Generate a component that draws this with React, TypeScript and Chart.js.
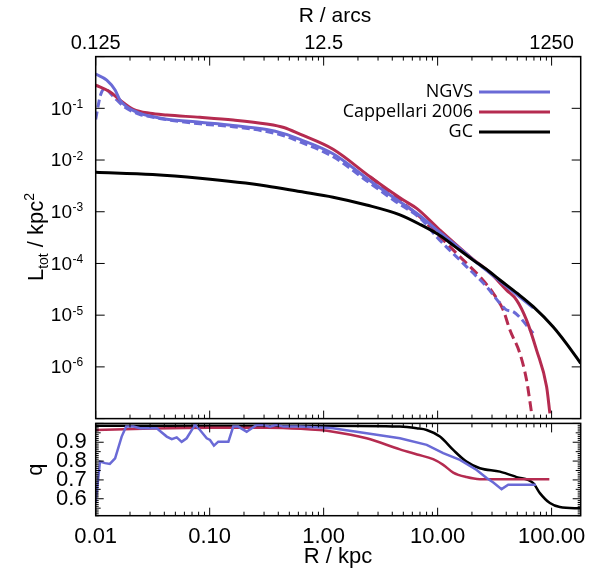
import React, { useEffect, useRef } from "react";
import { Chart, registerables } from "chart.js";

Chart.register(...registerables);

// ---------- data (R in kpc) ----------
const kpcTicks = [0.01, 0.1, 1, 10, 100];
const arcTicks = [0.125, 12.5, 1250];
const lumTickExponents = [-1, -2, -3, -4, -5, -6];
const qTicks = [0.6, 0.7, 0.8, 0.9];
const legendLabels = ["NGVS", "Cappellari 2006", "GC"];

const ngvsR = [0.01, 0.0125, 0.0148, 0.0163, 0.0187, 0.0245, 0.0299, 0.042, 0.0822, 0.16, 0.316, 0.447, 0.619, 1.21, 2.55, 4.08, 6.55, 10.47, 15.8, 20.5, 28.2, 35.2, 50.1, 69.0];
const ngvsL = [0.46, 0.352, 0.226, 0.145, 0.107, 0.08, 0.0708, 0.0617, 0.0537, 0.0468, 0.0389, 0.0324, 0.0251, 0.0132, 0.00398, 0.00191, 0.000933, 0.000398, 0.000191, 0.000117, 0.0000676, 0.0000457, 0.0000245, 0.0000138];

const ngvsDashR = [0.01, 0.011, 0.012, 0.0141, 0.0178, 0.0245, 0.0299, 0.042, 0.0822, 0.16, 0.316, 0.447, 0.619, 1.21, 2.38, 4.27, 7.41, 9.79, 17.9, 26.9, 35.2, 40.3, 46.0, 69.0];
const ngvsDashL = [0.0612, 0.178, 0.24, 0.174, 0.107, 0.0759, 0.0692, 0.0603, 0.0501, 0.0441, 0.0355, 0.0295, 0.0224, 0.0116, 0.00398, 0.00158, 0.000676, 0.000328, 0.0000871, 0.0000355, 0.000017, 0.0000126, 0.0000117, 0.00000447];

const capR = [0.01, 0.0133, 0.0163, 0.0214, 0.0299, 0.042, 0.0822, 0.161, 0.316, 0.447, 0.619, 1.21, 2.55, 4.08, 5.0, 6.55, 10.47, 20.5, 28.2, 40.3, 49.3, 60.3, 73.8, 90.4, 96.6];
const capL = [0.282, 0.209, 0.145, 0.0957, 0.08, 0.0741, 0.067, 0.0594, 0.0497, 0.0425, 0.0316, 0.0161, 0.00475, 0.00227, 0.00168, 0.00116, 0.000443, 0.00012, 0.0000692, 0.0000305, 0.0000196, 0.00000804, 0.00000211, 0.000000412, 0.000000126];

const capDashR = [2.55, 3.98, 7.48, 11.19, 16.8, 23.5, 30.8, 37.6, 43.1, 52.7, 60.3, 66.8];
const capDashL = [0.00475, 0.00219, 0.000692, 0.000284, 0.000116, 0.0000553, 0.0000264, 0.0000126, 0.00000515, 0.00000182, 0.000000556, 0.000000126];

const gcR = [0.01, 0.0316, 0.0822, 0.316, 0.619, 1.21, 2.38, 4.67, 7.08, 10.47, 14.1, 20.5, 28.2, 35.2, 50.1, 69.0, 103, 135, 180];
const gcL = [0.00578, 0.00525, 0.00443, 0.00316, 0.00246, 0.00191, 0.00135, 0.000871, 0.000562, 0.000347, 0.000214, 0.000116, 0.0000708, 0.0000479, 0.0000263, 0.0000146, 0.00000597, 0.00000282, 0.00000117];

const qNgvsR = [0.01, 0.0109, 0.0121, 0.0133, 0.0148, 0.0169, 0.0185, 0.0214, 0.0245, 0.0343, 0.042, 0.0465, 0.0514, 0.0568, 0.0628, 0.0743, 0.0822, 0.0942, 0.1007, 0.109, 0.119, 0.146, 0.161, 0.178, 0.211, 0.258, 0.295, 0.338, 0.387, 0.443, 0.619, 1.21, 2.38, 4.67, 8.02, 11.19, 15.7, 22.0, 26.9, 30.8, 36.4, 41.6, 72.8];
const qNgvs = [0.577, 0.797, 0.789, 0.785, 0.815, 0.93, 0.983, 0.983, 0.974, 0.974, 0.93, 0.916, 0.926, 0.902, 0.921, 0.992, 0.965, 0.921, 0.912, 0.882, 0.903, 0.903, 0.983, 0.983, 0.956, 0.992, 0.992, 0.983, 0.992, 0.983, 0.983, 0.974, 0.948, 0.921, 0.886, 0.842, 0.806, 0.753, 0.71, 0.686, 0.651, 0.674, 0.674];

const qCapR = [0.01, 0.0316, 0.1, 0.316, 0.631, 1.21, 2.38, 4.67, 6.61, 9.12, 11.2, 13.7, 17.9, 23.5, 95.5];
const qCap = [0.965, 0.973, 0.977, 0.977, 0.971, 0.956, 0.921, 0.862, 0.835, 0.81, 0.78, 0.739, 0.715, 0.704, 0.703];

const qGcR = [0.01, 0.1, 1.0, 4.67, 6.55, 8.02, 10.47, 13.7, 17.9, 23.5, 35.2, 49.3, 69.0, 78.9, 96.6, 118, 180];
const qGc = [0.988, 0.988, 0.988, 0.983, 0.974, 0.965, 0.93, 0.859, 0.797, 0.762, 0.744, 0.715, 0.683, 0.63, 0.577, 0.556, 0.549];

// ---------- ranges & styles ----------
const R_MIN = 0.01;
const R_MAX = 180;
const ARCS_PER_KPC = 12.5;
const L_MIN = 1e-7;
const L_MAX = 1;
const Q_MIN = 0.51;
const Q_MAX = 1.0;

const BLUE = "#6a6ad6";
const RED = "#b52b50";
const BLACK = "#000000";
const FONT = "'Liberation Sans', Arial, Helvetica, sans-serif";
const LEGEND_FONT = "'Open Sans', 'DejaVu Sans', sans-serif";
const legendColors = [BLUE, RED, BLACK];

const W = 600;
const TOP_H = 421;
const BOT_H = 151;
const AXIS_LEFT = 95.7;
const PAD_RIGHT = 19.3;
const BOT_PAD_TOP = 2.4;
const BOT_AREA_H = 92.3;

const pts = (xs: number[], ys: number[]) => xs.map((x, i) => ({ x, y: ys[i] }));

function seg(ctx: any, x1: number, y1: number, x2: number, y2: number) {
  ctx.beginPath();
  ctx.moveTo(x1, y1);
  ctx.lineTo(x2, y2);
  ctx.stroke();
}

function zeroPad(s: any) {
  s.paddingTop = 0;
  s.paddingBottom = 0;
  s.paddingLeft = 0;
  s.paddingRight = 0;
}

function drawKpcTicks(ctx: any, xs: any, a: any) {
  for (const d of kpcTicks) {
    for (let m = 1; m <= 9; m++) {
      const v = m * d;
      if (v > R_MAX) continue;
      const px = xs.getPixelForValue(v);
      const major = m === 1;
      seg(ctx, px, a.top, px, a.top + (major ? 9 : 4));
      seg(ctx, px, a.bottom, px, a.bottom - (major ? 8 : 4));
    }
  }
}

const topDecor = {
  id: "topDecor",
  afterDraw(chart: any) {
    const { ctx, chartArea: a, scales } = chart;
    const xs = scales.x;
    const ys = scales.y;
    ctx.save();
    ctx.strokeStyle = "#000";
    ctx.lineWidth = 1;
    drawKpcTicks(ctx, xs, a);
    for (let e = -7; e <= 0; e++) {
      const py = ys.getPixelForValue(Math.pow(10, e));
      seg(ctx, a.left, py, a.left + 9, py);
      seg(ctx, a.right, py, a.right - 9, py);
    }
    ctx.lineWidth = 1.5;
    ctx.strokeRect(a.left, a.top, a.right - a.left, a.bottom - a.top);

    // y tick labels 10^e
    ctx.fillStyle = "#000";
    for (const e of lumTickExponents) {
      const py = ys.getPixelForValue(Math.pow(10, e));
      ctx.font = `19px ${FONT}`;
      ctx.textAlign = "right";
      ctx.textBaseline = "middle";
      ctx.fillText("10", 72, py + 1);
      ctx.font = `12px ${FONT}`;
      ctx.textAlign = "left";
      ctx.textBaseline = "alphabetic";
      ctx.fillText(String(e), 72.5, py - 0.5);
    }

    // y title: L_tot / kpc^2
    ctx.save();
    ctx.translate(35, 237);
    ctx.rotate(-Math.PI / 2);
    const parts = [
      { t: "L", f: 22, dy: 0 },
      { t: "tot", f: 14, dy: 5 },
      { t: " / kpc", f: 22, dy: 0 },
      { t: "2", f: 14, dy: -9 },
    ];
    let total = 0;
    for (const p of parts) {
      ctx.font = `${p.f}px ${FONT}`;
      total += ctx.measureText(p.t).width;
    }
    let cx = -total / 2;
    ctx.textAlign = "left";
    ctx.textBaseline = "alphabetic";
    for (const p of parts) {
      ctx.font = `${p.f}px ${FONT}`;
      ctx.fillText(p.t, cx, 8 + p.dy);
      cx += ctx.measureText(p.t).width;
    }
    ctx.restore();

    // top title
    ctx.font = `21px ${FONT}`;
    ctx.textAlign = "center";
    ctx.textBaseline = "middle";
    ctx.fillText("R / arcs", 335, 16);

    // legend
    legendLabels.forEach((t, i) => {
      const y = 92 + i * 20;
      ctx.font = `18px ${LEGEND_FONT}`;
      ctx.textAlign = "right";
      ctx.textBaseline = "middle";
      ctx.fillStyle = "#000";
      ctx.fillText(t, 473, y);
      ctx.strokeStyle = legendColors[i];
      ctx.lineWidth = 3;
      seg(ctx, 479, y, 550, y);
    });
    ctx.restore();
  },
};

const botDecor = {
  id: "botDecor",
  afterDraw(chart: any) {
    const { ctx, chartArea: a, scales } = chart;
    const xs = scales.x;
    const ys = scales.y;
    ctx.save();
    ctx.strokeStyle = "#000";
    ctx.lineWidth = 1;
    drawKpcTicks(ctx, xs, a);
    for (let i = 51; i <= 100; i++) {
      const v = i / 100;
      const py = ys.getPixelForValue(v);
      const len = i % 10 === 0 ? 8 : i % 5 === 0 ? 5 : 3;
      seg(ctx, a.left, py, a.left + len, py);
      seg(ctx, a.right, py, a.right - len, py);
    }
    ctx.lineWidth = 1.5;
    ctx.strokeRect(a.left, a.top, a.right - a.left, a.bottom - a.top);

    ctx.fillStyle = "#000";
    ctx.font = `22px ${FONT}`;
    ctx.textAlign = "center";
    ctx.textBaseline = "middle";
    ctx.fillText("R / kpc", 338, 136);

    ctx.save();
    ctx.translate(36, (a.top + a.bottom) / 2);
    ctx.rotate(-Math.PI / 2);
    ctx.fillText("q", 0, 0);
    ctx.restore();
    ctx.restore();
  },
};

function lineDs(label: string, data: any[], color: string, width: number, extra: any = {}) {
  return {
    label,
    data,
    borderColor: color,
    backgroundColor: color,
    borderWidth: width,
    pointRadius: 0,
    fill: false,
    ...extra,
  };
}

export default function App() {
  const topRef = useRef<HTMLCanvasElement>(null);
  const botRef = useRef<HTMLCanvasElement>(null);

  useEffect(() => {
    const smooth = { cubicInterpolationMode: "monotone" };
    const top = new Chart(topRef.current as any, {
      type: "line",
      data: {
        datasets: [
          lineDs("GC", pts(gcR, gcL), BLACK, 3, smooth),
          lineDs("NGVS", pts(ngvsR, ngvsL), BLUE, 3, smooth),
          lineDs("Cappellari 2006", pts(capR, capL), RED, 3, smooth),
          lineDs("NGVS (dashed)", pts(ngvsDashR, ngvsDashL), BLUE, 3, { ...smooth, borderDash: [8, 4] }),
          lineDs("Cappellari 2006 (dashed)", pts(capDashR, capDashL), RED, 3, { ...smooth, borderDash: [10, 5] }),
        ],
      } as any,
      options: {
        responsive: false,
        animation: false,
        devicePixelRatio: 1,
        layout: { padding: { left: 0, right: PAD_RIGHT, top: 0, bottom: TOP_H - 418.6 } },
        plugins: { legend: { display: false }, tooltip: { enabled: false } },
        scales: {
          x: { type: "logarithmic", min: R_MIN, max: R_MAX, display: false },
          xTop: {
            type: "logarithmic",
            position: "top",
            min: R_MIN * ARCS_PER_KPC,
            max: R_MAX * ARCS_PER_KPC,
            grid: { display: false, drawTicks: false },
            border: { display: false },
            afterBuildTicks: (s: any) => {
              s.ticks = arcTicks.map((v) => ({ value: v }));
            },
            afterFit: (s: any) => {
              s.height = 56.6;
              zeroPad(s);
            },
            ticks: {
              autoSkip: false,
              maxRotation: 0,
              padding: 1,
              color: "#000",
              font: { family: FONT, size: 20 },
              callback: (v: any) => String(v),
            },
          },
          y: {
            type: "logarithmic",
            position: "left",
            min: L_MIN,
            max: L_MAX,
            grid: { display: false, drawTicks: false },
            border: { display: false },
            ticks: { display: false },
            afterFit: (s: any) => {
              s.width = AXIS_LEFT;
              zeroPad(s);
            },
          },
        },
      } as any,
      plugins: [topDecor],
    });

    const bot = new Chart(botRef.current as any, {
      type: "line",
      data: {
        datasets: [
          lineDs("NGVS", pts(qNgvsR, qNgvs), BLUE, 2.5),
          lineDs("Cappellari 2006", pts(qCapR, qCap), RED, 2.5, smooth),
          lineDs("GC", pts(qGcR, qGc), BLACK, 2.5, smooth),
        ],
      } as any,
      options: {
        responsive: false,
        animation: false,
        devicePixelRatio: 1,
        layout: { padding: { left: 0, right: PAD_RIGHT, top: BOT_PAD_TOP, bottom: 0 } },
        plugins: { legend: { display: false }, tooltip: { enabled: false } },
        scales: {
          x: {
            type: "logarithmic",
            position: "bottom",
            min: R_MIN,
            max: R_MAX,
            grid: { display: false, drawTicks: false },
            border: { display: false },
            afterBuildTicks: (s: any) => {
              s.ticks = kpcTicks.map((v) => ({ value: v }));
            },
            afterFit: (s: any) => {
              s.height = BOT_H - BOT_PAD_TOP - BOT_AREA_H;
              zeroPad(s);
            },
            ticks: {
              autoSkip: false,
              maxRotation: 0,
              padding: 8,
              color: "#000",
              font: { family: FONT, size: 22 },
              callback: (v: any) => Number(v).toFixed(2),
            },
          },
          y: {
            type: "linear",
            position: "left",
            min: Q_MIN,
            max: Q_MAX,
            grid: { display: false, drawTicks: false },
            border: { display: false },
            afterBuildTicks: (s: any) => {
              s.ticks = qTicks.map((v) => ({ value: v }));
            },
            afterFit: (s: any) => {
              s.width = AXIS_LEFT;
              zeroPad(s);
            },
            ticks: {
              autoSkip: false,
              padding: 9,
              color: "#000",
              font: { family: FONT, size: 22 },
              callback: (v: any) => Number(v).toFixed(1),
            },
          },
        },
      } as any,
      plugins: [botDecor],
    });

    return () => {
      top.destroy();
      bot.destroy();
    };
  }, []);

  return (
    <div style={{ position: "absolute", left: 0, top: 0, width: W, height: TOP_H + BOT_H, background: "#fff" }}>
      <canvas
        ref={topRef}
        width={W}
        height={TOP_H}
        style={{ position: "absolute", left: 0, top: 0, width: W, height: TOP_H }}
      />
      <canvas
        ref={botRef}
        width={W}
        height={BOT_H}
        style={{ position: "absolute", left: 0, top: TOP_H, width: W, height: BOT_H }}
      />
    </div>
  );
}
